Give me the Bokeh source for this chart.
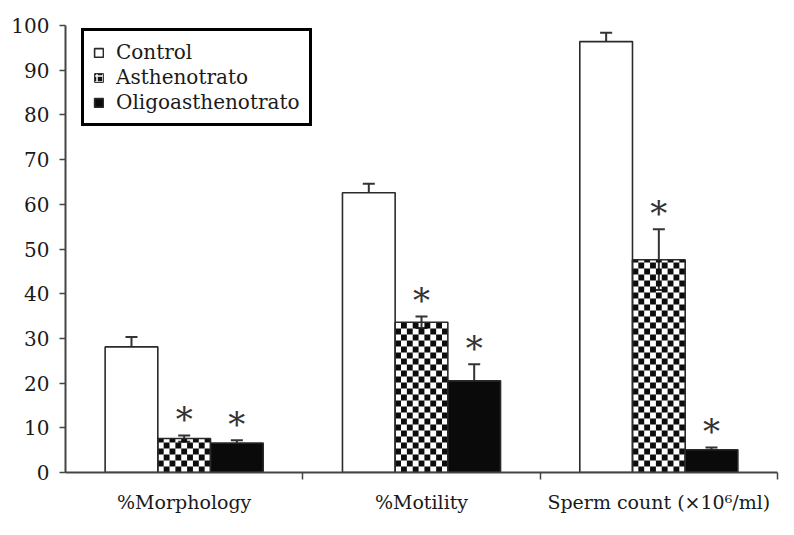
import numpy as np
from bokeh.plotting import figure
from bokeh.models import (ColumnDataSource, Range1d, FixedTicker, Whisker, TeeHead,
                          Legend, LegendItem)
from bokeh.core.properties import value
from bokeh.embed import file_html
from bokeh.resources import INLINE

# ---- data ----
categories = ["%Morphology", "%Motility", "Sperm count (×10⁶/ml)"]
groups = ["Control", "Asthenotrato", "Oligoasthenotrato"]
control = [28.1, 62.6, 96.4]
control_err = [2.2, 2.0, 2.0]
astheno = [7.6, 33.6, 47.6]
astheno_err = [0.7, 1.3, 6.8]
oligo = [6.6, 20.5, 5.1]
oligo_err = [0.6, 3.7, 0.5]
astheno_sig = [True, True, True]
oligo_sig = [True, True, True]
y_ticks = list(range(0, 101, 10))

FONT = "DejaVu Serif"
TXT = "#1a1a1a"
AX = "#444444"
EDGE = "#2a2a2a"

W, H = 786, 527
BL, BT, BR, BB = 65, 25, 9, 55
p = figure(width=W, height=H, output_backend="svg", toolbar_location=None,
           x_range=Range1d(0, 3), y_range=Range1d(0, 100),
           min_border_left=BL, min_border_top=BT, min_border_right=BR, min_border_bottom=BB)
p.outline_line_color = None
p.xgrid.grid_line_color = None
p.ygrid.grid_line_color = None
p.background_fill_color = "white"

frame_w = W - BL - BR
frame_h = H - BT - BB

centers = np.arange(len(categories)) + 0.5
bw = 0.222
offsets = [-bw, 0.0, bw]

# checkerboard texture cells for the Asthenotrato bars (cell ~6px)
ncol = 9
cw = bw / ncol
ch = 6.0 * 100.0 / frame_h
cl, cr, cb, ct = [], [], [], []
for i, v in enumerate(astheno):
    x0 = centers[i] + offsets[1] - bw / 2
    nrow = int(np.ceil(v / ch))
    for r in range(nrow):
        for c in range(ncol):
            if (r + c) % 2 == 1:
                cl.append(x0 + c * cw)
                cr.append(x0 + (c + 1) * cw)
                cb.append(r * ch)
                ct.append(min((r + 1) * ch, v))
p.quad(left=cl, right=cr, bottom=cb, top=ct, fill_color="#0d0d0d", line_color=None)

series = [(control, control_err, dict(fill_color="white")),
          (astheno, astheno_err, dict(fill_color=None)),
          (oligo, oligo_err, dict(fill_color="#0a0a0a"))]

renderers = []
for (vals, errs, style), off, name in zip(series, offsets, groups):
    vals = np.array(vals); errs = np.array(errs)
    src = ColumnDataSource(dict(x=centers + off, top=vals,
                                upper=vals + errs, lower=vals - errs))
    r = p.vbar(x="x", top="top", width=bw, bottom=0, source=src,
               line_color=EDGE, line_width=1.6, **style)
    renderers.append(r)
    w = Whisker(base="x", upper="upper", lower="lower", source=src,
                line_color="#333333", line_width=2,
                upper_head=TeeHead(size=12, line_color="#333333", line_width=2),
                lower_head=TeeHead(size=12, line_color="#333333", line_width=2))
    p.add_layout(w)

# legend proxy for the checker pattern (placed outside the visible x range)
proxy = p.vbar(x=[-5], top=[1], width=bw, fill_color="#151515", line_color=EDGE,
               hatch_pattern="cross", hatch_color="white", hatch_scale=6, hatch_weight=1.5)

items = [LegendItem(label=groups[0], renderers=[renderers[0]]),
         LegendItem(label=groups[1], renderers=[proxy]),
         LegendItem(label=groups[2], renderers=[renderers[2]])]

# asterisks
sx, sy = [], []
for vals, errs, sig, off in [(astheno, astheno_err, astheno_sig, offsets[1]),
                             (oligo, oligo_err, oligo_sig, offsets[2])]:
    for i, s in enumerate(sig):
        if s:
            sx.append(centers[i] + off)
            sy.append(vals[i] + errs[i])
p.text(x=sx, y=sy, text=["*"] * len(sx), text_font=value(FONT), text_font_size="34px",
       text_color="#333333", text_align="center", text_baseline="alphabetic", y_offset=-16)

# axes
p.yaxis.ticker = FixedTicker(ticks=y_ticks)
p.yaxis.major_tick_out = 6
p.yaxis.major_tick_in = 0
p.yaxis.minor_tick_line_color = None
p.yaxis.axis_line_color = AX
p.yaxis.axis_line_width = 2
p.yaxis.major_tick_line_color = AX
p.yaxis.major_tick_line_width = 1.5
p.yaxis.major_label_text_font = FONT
p.yaxis.major_label_text_font_size = "20px"
p.yaxis.major_label_text_color = TXT
p.yaxis.major_label_standoff = 10

p.xaxis.ticker = FixedTicker(ticks=list(centers), minor_ticks=[1, 2, 3])
p.xaxis.major_label_overrides = {float(c): lab for c, lab in zip(centers, categories)}
p.xaxis.major_tick_out = 0
p.xaxis.major_tick_in = 0
p.xaxis.major_tick_line_color = None
p.xaxis.minor_tick_out = 7
p.xaxis.minor_tick_in = 0
p.xaxis.minor_tick_line_color = AX
p.xaxis.minor_tick_line_width = 1.5
p.xaxis.axis_line_color = AX
p.xaxis.axis_line_width = 2
p.xaxis.major_label_text_font = FONT
p.xaxis.major_label_text_font_size = "19px"
p.xaxis.major_label_text_color = TXT
p.xaxis.major_label_standoff = 11

leg_h = 94
legend = Legend(items=items, location=(16, frame_h - 7 - leg_h), orientation="vertical",
                label_text_font=FONT, label_text_font_size="20px", label_text_color=TXT,
                glyph_width=11, glyph_height=11, label_height=20, spacing=1,
                padding=9, margin=0, label_standoff=12,
                border_line_color="black", border_line_width=3, border_line_alpha=1,
                background_fill_color="white", background_fill_alpha=1)
p.add_layout(legend)

open("out.html", "w").write(file_html(p, INLINE))
